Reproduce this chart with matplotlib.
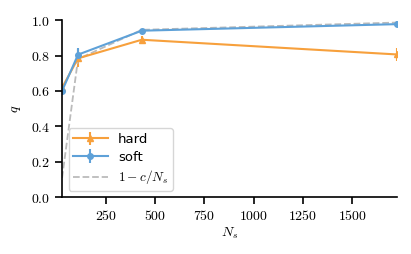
import numpy as np
import matplotlib
matplotlib.use("Agg")
import matplotlib.pyplot as plt
from matplotlib.ticker import FormatStrFormatter

# data
n_s = [27, 108, 432, 1728]
q_hard = [0.618, 0.784, 0.889, 0.806]
q_hard_err = [0.02, 0.05, 0.02, 0.035]
q_soft = [0.60, 0.805, 0.940, 0.977]
q_soft_err = [0.02, 0.04, 0.012, 0.015]
q_fit = [0.11, 0.78, 0.945, 0.986]

orange = "#f7a03c"
blue = "#5ea1d8"

plt.rcParams["mathtext.fontset"] = "cm"
plt.rcParams["font.size"] = 10

fig = plt.figure(figsize=(4.11, 2.54), dpi=100)
ax = fig.add_axes([0.151, 0.223, 0.815, 0.698])

h1 = ax.errorbar(n_s, q_hard, yerr=q_hard_err, color=orange, marker="^", ms=5,
                 lw=1.5, label="hard")
h2 = ax.errorbar(n_s, q_soft, yerr=q_soft_err, color=blue, marker="o", ms=4,
                 lw=1.5, label="soft")
h3, = ax.plot(n_s, q_fit, color="#bbbbbb", ls="--", lw=1.3, label=r"$1-c/N_s$")

ax.set_xlim(n_s[0], n_s[-1])
ax.set_ylim(0, 1)
ax.set_xticks([250, 500, 750, 1000, 1250, 1500])
ax.set_yticks([0, 0.2, 0.4, 0.6, 0.8, 1.0])
ax.xaxis.set_major_formatter(FormatStrFormatter("$%d$"))
ax.yaxis.set_major_formatter(FormatStrFormatter("$%.1f$"))
ax.tick_params(direction="out", length=5, width=1.2, labelsize=10)

ax.spines["top"].set_visible(False)
ax.spines["right"].set_visible(False)
for s in ["left", "bottom"]:
    ax.spines[s].set_linewidth(1.2)

ax.set_xlabel(r"$N_s$", labelpad=2)
ax.set_ylabel(r"$q$", labelpad=6)

ax.legend([h1, h2, h3], ["hard", "soft", r"$1-c/N_s$"], loc="lower left",
          fontsize=9.5, framealpha=0.8, borderaxespad=0.5,
          handlelength=2.6, labelspacing=0.35, borderpad=0.35)

fig.savefig("out.png", dpi=100)
